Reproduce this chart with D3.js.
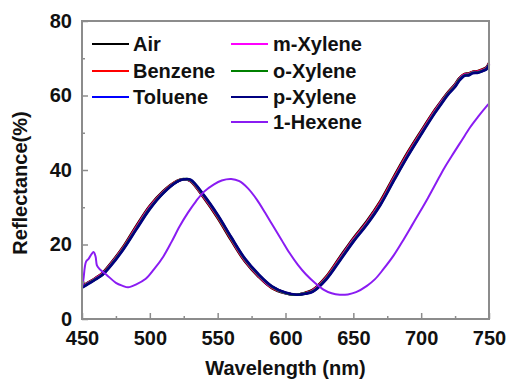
<!DOCTYPE html>
<html><head><meta charset="utf-8">
<script src="https://cdn.jsdelivr.net/npm/d3@7"></script>
<style>body{margin:0;background:#fff}svg{display:block}</style>
</head><body><svg id="c" width="507" height="383"></svg>
<script>
// ---- data ----
const wl = [450,455,460,465,470,480,490,500,510,520,525,530,540,550,560,570,580,590,600,608,615,620,630,640,650,660,670,680,690,700,710,715,720,725,728,732,735,738,742,745,748,750];
const air     = [8.8,9.9,11.0,12.3,14.4,19.2,25.0,30.4,34.4,37.1,37.6,37.0,32.4,27.1,21.1,15.5,11.4,8.3,6.9,6.5,7.1,7.8,11.4,16.6,21.7,26.3,31.7,38.3,44.7,50.5,56.1,58.6,61.0,63.0,64.6,65.8,65.9,66.4,66.6,67.0,67.5,68.7];
const benzene = [8.7,9.8,10.9,12.2,14.2,19.0,24.7,30.2,34.2,37.0,37.5,37.1,32.6,27.4,21.4,15.7,11.6,8.4,7.0,6.5,7.0,7.7,11.2,16.3,21.4,26.0,31.4,38.0,44.4,50.2,55.9,58.4,60.8,62.8,64.4,65.7,65.8,66.3,66.5,66.9,67.4,68.6];
const toluene = [8.6,9.7,10.8,12.0,14.0,18.7,24.4,29.9,34.0,36.9,37.5,37.2,32.9,27.7,21.7,16.0,11.8,8.6,7.0,6.5,6.9,7.5,10.9,16.0,21.1,25.7,31.0,37.6,44.0,49.9,55.6,58.2,60.6,62.6,64.2,65.5,65.6,66.2,66.3,66.7,67.2,68.4];
const mXylene = [8.6,9.7,10.8,12.0,14.0,18.7,24.4,29.9,34.0,36.9,37.5,37.2,32.9,27.7,21.7,16.0,11.8,8.6,7.0,6.5,6.9,7.5,10.9,16.0,21.1,25.7,31.0,37.6,44.0,49.9,55.6,58.2,60.6,62.6,64.2,65.5,65.6,66.2,66.3,66.7,67.2,68.4];
const oXylene = [8.5,9.6,10.7,11.9,13.9,18.6,24.2,29.7,33.9,36.9,37.5,37.3,33.0,27.8,21.8,16.1,11.9,8.7,7.0,6.5,6.9,7.4,10.8,15.8,20.9,25.5,30.8,37.4,43.8,49.7,55.4,58.0,60.5,62.5,64.1,65.4,65.5,66.1,66.2,66.6,67.1,68.3];
const pXylene = [8.4,9.5,10.6,11.8,13.7,18.4,24.0,29.5,33.8,36.8,37.5,37.4,33.2,28.0,22.0,16.3,12.1,8.8,7.1,6.5,6.8,7.3,10.6,15.6,20.7,25.3,30.6,37.2,43.6,49.5,55.2,57.8,60.3,62.3,63.9,65.3,65.4,66.0,66.1,66.5,67.0,68.2];
const hexWl   = [450,451,453,455,457,458.5,460,461,463,468,475,480,484,490,497,503,510,516,522,528,534,540,547,553,560,566,572,579,585,591,597,603,609,615,622,628,634,640,646,652,660,666,672,680,687,693,699,705,711,717,724,730,736,742,748,750];
const hexene  = [8.3,10.5,15.4,16.2,17.4,18.0,16.8,14.4,13.4,11.9,9.7,8.9,8.5,9.3,10.8,13.3,16.8,20.7,24.9,28.5,31.6,34.2,36.1,37.2,37.6,37.0,35.2,32.0,28.5,24.9,21.3,17.7,14.6,12.0,9.6,7.9,6.9,6.5,6.6,7.2,8.9,10.7,13.3,17.2,21.3,25.0,28.7,32.5,36.5,40.5,44.6,48.0,51.4,54.3,57.0,57.8];
const seriesNames = ["Air","Benzene","Toluene","m-Xylene","o-Xylene","p-Xylene","1-Hexene"];
const seriesColors = ["#000000","#ff0000","#0000ff","#ff00ff","#008000","#000080","#8a1cf2"];
const xTicks = [450,500,550,600,650,700,750];
const yTicks = [0,20,40,60,80];
const xTitle = "Wavelength (nm)";
const yTitle = "Reflectance(%)";

const seriesData = [
  [wl, air],[wl, benzene],[wl, toluene],[wl, mXylene],[wl, oXylene],[wl, pXylene],[hexWl, hexene]
].map(([xs, ys], i) => ({name: seriesNames[i], color: seriesColors[i], pts: xs.map((x, j) => [x, ys[j]])}));

// ---- layout ----
const L = 82, R = 489, T = 21, B = 319;
const svg = d3.select("#c");
const x = d3.scaleLinear().domain([450, 750]).range([L, R]);
const y = d3.scaleLinear().domain([0, 80]).range([B, T]);
const axisColor = "#8c8c8c";
const font = "'Liberation Sans', Arial, sans-serif";

// curves
const line = d3.line().x(d => x(d[0])).y(d => y(d[1])).curve(d3.curveCatmullRom.alpha(0.5));
const plot = svg.append("g");
seriesData.forEach(s => {
  plot.append("path").attr("d", line(s.pts)).attr("fill", "none")
    .attr("stroke", s.color).attr("stroke-width", s.name === "1-Hexene" ? 2 : 2.6)
    .attr("stroke-linejoin", "round");
});

// frame
svg.append("rect").attr("x", L).attr("y", T).attr("width", R - L).attr("height", B - T)
  .attr("fill", "none").attr("stroke", axisColor).attr("stroke-width", 2);

// x axis (ticks inside)
const xAxis = d3.axisBottom(x).tickValues(xTicks).tickSizeInner(-6).tickSizeOuter(0).tickPadding(14).tickFormat(d3.format("d"));
const gx = svg.append("g").attr("transform", `translate(0,${B})`).call(xAxis);
const xMinor = d3.axisBottom(x).tickValues(d3.range(475, 750, 50)).tickSizeInner(-3).tickSizeOuter(0).tickFormat("");
const gxm = svg.append("g").attr("transform", `translate(0,${B})`).call(xMinor);
// y axis
const yAxis = d3.axisLeft(y).tickValues(yTicks).tickSizeInner(-6).tickSizeOuter(0).tickPadding(10).tickFormat(d3.format("d"));
const gy = svg.append("g").attr("transform", `translate(${L},0)`).call(yAxis);
const yMinor = d3.axisLeft(y).tickValues(d3.range(10, 80, 20)).tickSizeInner(-3).tickSizeOuter(0).tickFormat("");
const gym = svg.append("g").attr("transform", `translate(${L},0)`).call(yMinor);
[gx, gxm, gy, gym].forEach(g => {
  g.select(".domain").remove();
  g.selectAll(".tick line").attr("stroke", axisColor).attr("stroke-width", 1.5);
  g.selectAll("text").attr("font-family", font).attr("font-weight", "bold").attr("font-size", 20).attr("fill", "#111");
});
gx.selectAll("text").attr("dy", "0.6em");

// titles
svg.append("text").attr("x", (L + R) / 2).attr("y", 375).attr("text-anchor", "middle")
  .attr("font-family", font).attr("font-weight", "bold").attr("font-size", 20).attr("fill", "#111").text(xTitle);
svg.append("text").attr("transform", `translate(27,${183}) rotate(-90)`).attr("text-anchor", "middle")
  .attr("font-family", font).attr("font-weight", "bold").attr("font-size", 20).attr("fill", "#111").text(yTitle);

// legend
const cols = [{lx: 92, tx: 133, items: [0,1,2]}, {lx: 231, tx: 273, items: [3,4,5,6]}];
const rowY = [44, 71, 97, 122];
const lg = svg.append("g");
cols.forEach(c => {
  c.items.forEach((idx, r) => {
    const s = seriesData[idx];
    lg.append("line").attr("x1", c.lx).attr("x2", c.lx + 37).attr("y1", rowY[r]).attr("y2", rowY[r])
      .attr("stroke", s.color).attr("stroke-width", 2);
    lg.append("text").attr("x", c.tx).attr("y", rowY[r] + 7).attr("font-family", font)
      .attr("font-weight", "bold").attr("font-size", 20).attr("fill", "#111").text(s.name);
  });
});
</script></body></html>
